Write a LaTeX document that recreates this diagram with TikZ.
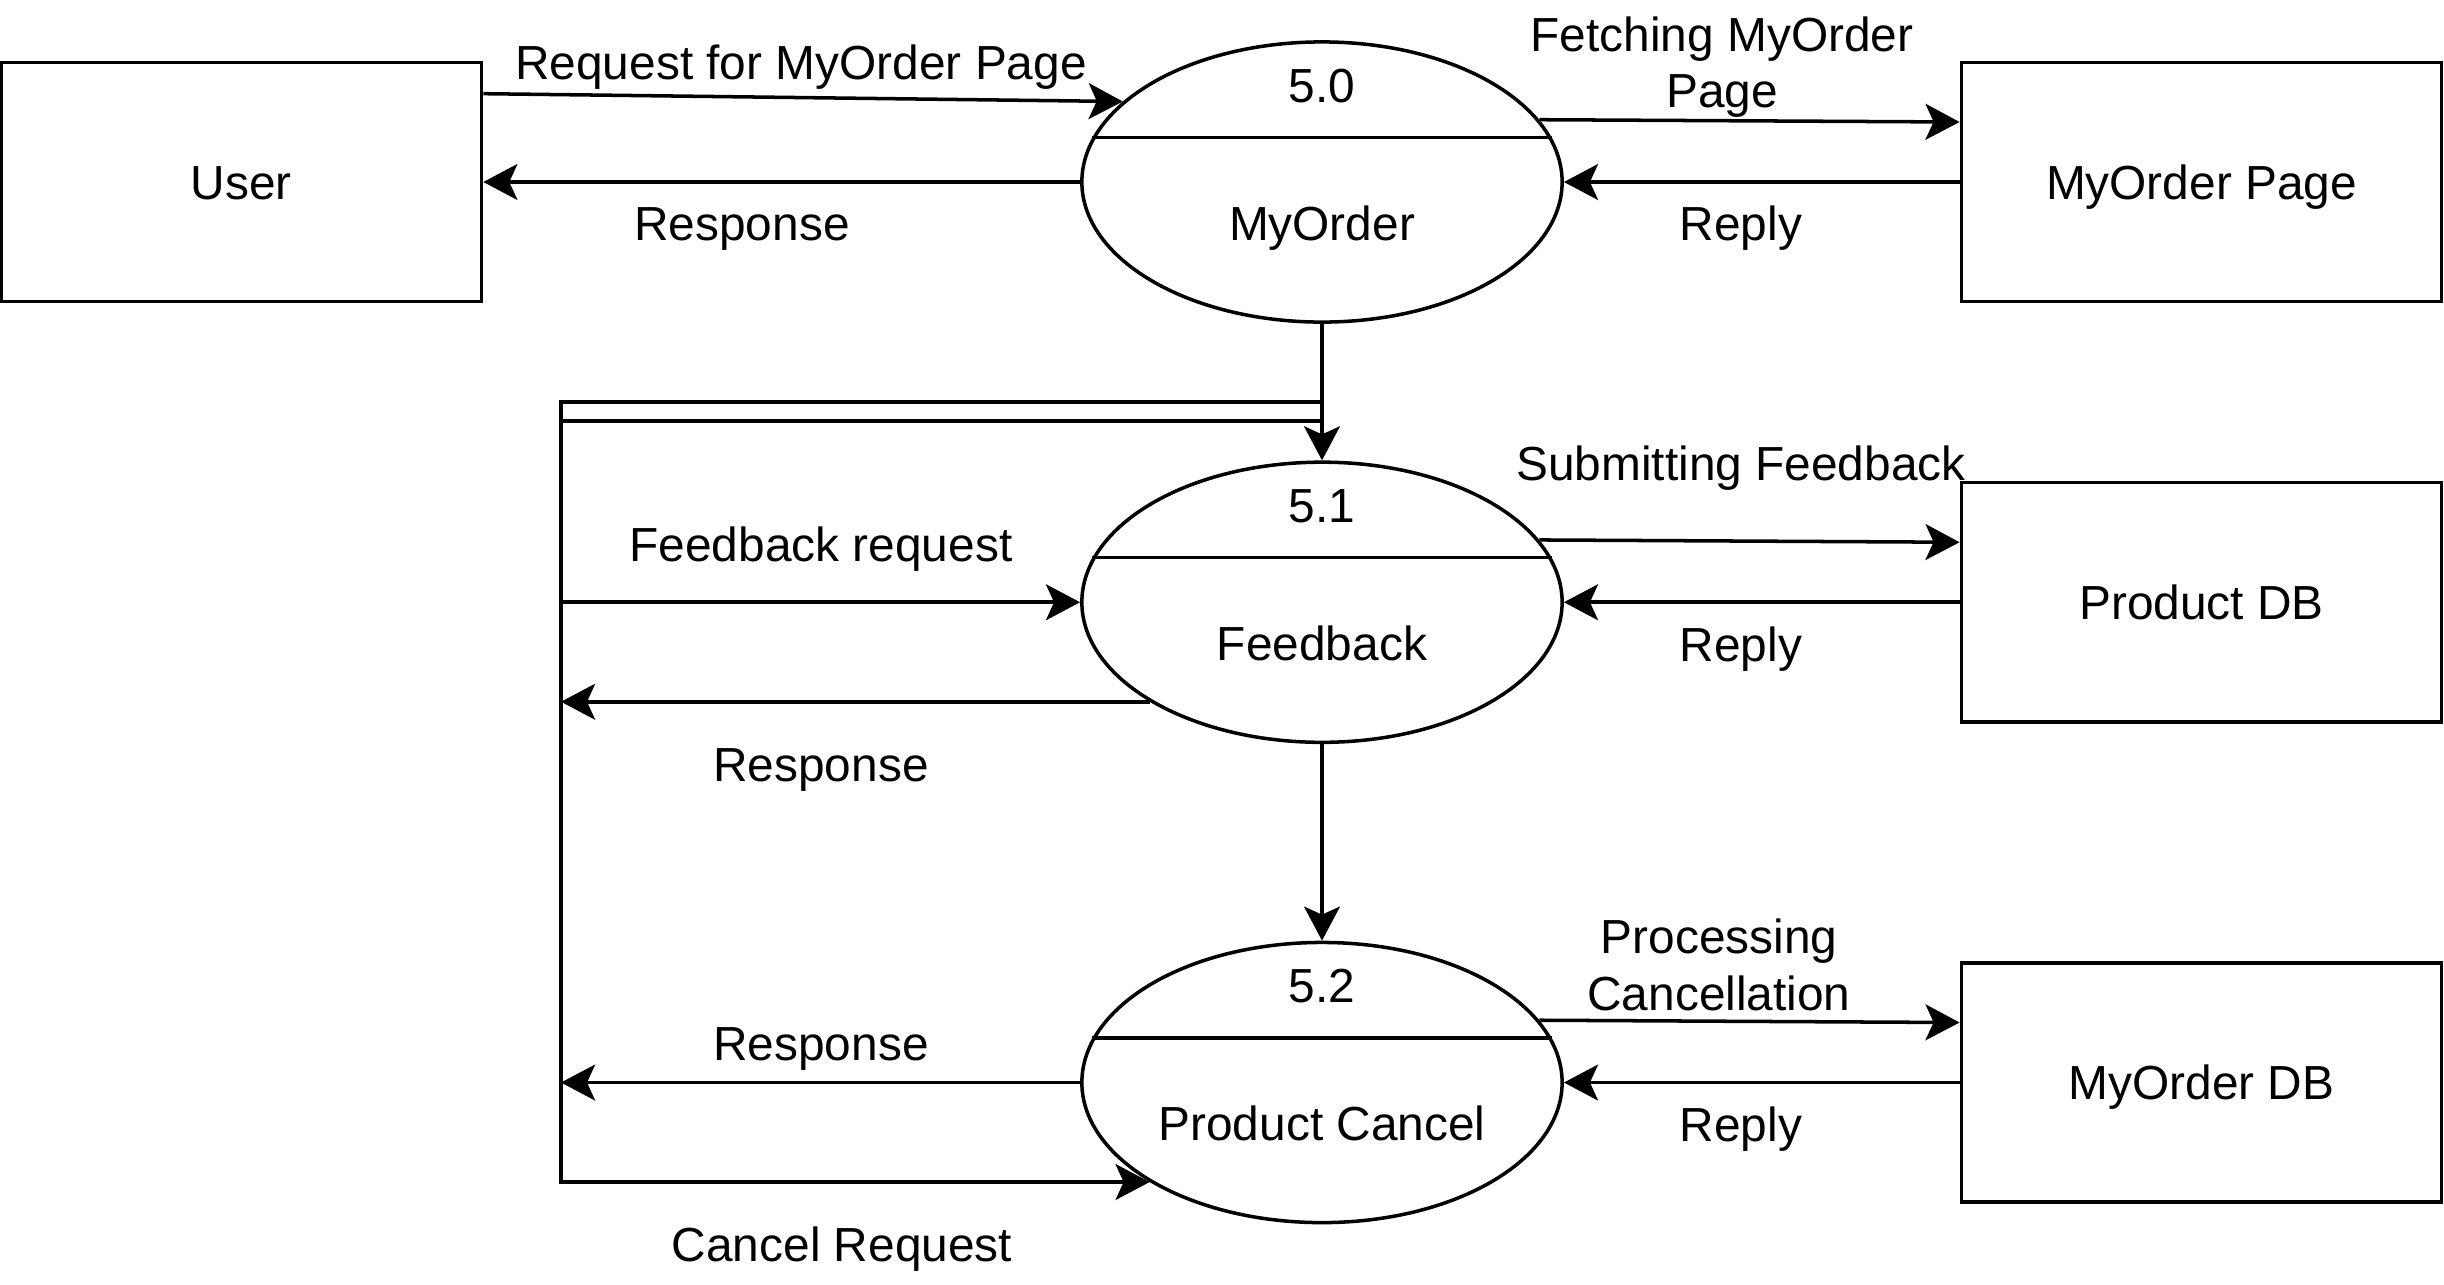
\documentclass[tikz,border=0pt]{standalone}
\usepackage{fontspec}
\setmainfont{Liberation Sans}
\usetikzlibrary{positioning}
\usetikzlibrary{calc}
\usetikzlibrary{shapes.geometric}
\usetikzlibrary{arrows.meta}
\begin{document}
\begin{tikzpicture}[x=0.01cm, y=-0.01cm, node distance=4.2cm,
    every node/.style={font=\fontsize{13.6pt}{16pt}\selectfont, text height=9.8pt, text depth=0pt},
    entity/.style={draw, line width=1pt, minimum width=4.8cm, minimum height=2.39cm, inner sep=0pt},
    process/.style={draw, ellipse, line width=1pt, minimum width=4.8cm, minimum height=2.8cm, inner sep=0pt},
    divider/.style={line width=1pt},
    flow_text/.style={align=center, inner sep=0pt},
    two_lines/.style={flow_text, text height=, text depth=},
    arrow_flow/.style={-{Stealth[length=9.7pt, width=10.2pt, inset=2.3pt]}, line width=1pt},
    plain_flow/.style={line width=1pt},
]
\useasboundingbox (0,0) rectangle (2444,1284);

\node[process] (myorder) at (1322,182) {};
\node[process, below of=myorder] (feedback) {};
\node[process, below of=feedback, yshift=-0.6cm] (cancel) {};

\node[entity, left of=myorder, xshift=-6.6cm] (user) {User};
\node[entity, right of=myorder, xshift=4.59cm] (page) {MyOrder Page};
\node[entity, below of=page] (productdb) {Product DB};
\node[entity, below of=productdb, yshift=-0.6cm] (orderdb) {MyOrder DB};

% process bubbles: number above the line, name below
\draw[divider] (myorder.169) -- (myorder.11);
\draw[divider] (feedback.169) -- (feedback.11);
\draw[divider] (cancel.169) -- (cancel.11);
\node[flow_text] (myorder_num) at ($(myorder)+(0,-97)$) {5.0};
\node[flow_text] (myorder_name) at ($(myorder)+(0,41)$) {MyOrder};
\node[flow_text] (feedback_num) at ($(feedback)+(0,-97)$) {5.1};
\node[flow_text] (feedback_name) at ($(feedback)+(0,41)$) {Feedback};
\node[flow_text] (cancel_num) at ($(cancel)+(0,-97)$) {5.2};
\node[flow_text] (cancel_name) at ($(cancel)+(0,41)$) {Product Cancel};

\coordinate (loop_top) at (561,402);
\coordinate (loop_mid) at (561,421);

\draw[arrow_flow] ($(user.north east)+(0,33)$) -- (myorder.158);
\draw[arrow_flow] (myorder.west) -- (user.east);
\draw[arrow_flow] (myorder.16) -- ($(page.west)+(0,-60)$);
\draw[arrow_flow] (page.west) -- (myorder.east);

\draw[arrow_flow] (myorder.south) -- (feedback.north);
\draw[arrow_flow] (feedback.16) -- ($(productdb.west)+(0,-60)$);
\draw[arrow_flow] (productdb.west) -- (feedback.east);

\draw[arrow_flow] (feedback.south) -- (cancel.north);
\draw[arrow_flow] (cancel.16) -- ($(orderdb.west)+(0,-60)$);
\draw[arrow_flow] (orderdb.west) -- (cancel.east);

% loop on the left
\draw[arrow_flow] (myorder.south |- loop_top) -- (loop_top) -- (loop_top |- cancel.210) -- (cancel.210);
\draw[plain_flow] (loop_mid) -- (loop_mid -| myorder.south);
\draw[arrow_flow] (loop_top |- feedback.west) -- (feedback.west);
\draw[arrow_flow] (feedback.210) -- (loop_top |- feedback.210);
\draw[arrow_flow] (cancel.west) -- (loop_top |- cancel.west);

% flow labels
\node[flow_text] (lbl_request) at (801,62) {Request for MyOrder Page};
\node[flow_text] (lbl_response_top) at (742,223) {Response};
\node[two_lines] (lbl_fetch) at (1722,67) {Fetching MyOrder\\Page};
\node[flow_text] (lbl_reply_top) at (1741,223) {Reply};
\node[flow_text] (lbl_submit) at (1741,463) {Submitting Feedback};
\node[flow_text] (lbl_reply_mid) at (1741,644) {Reply};
\node[two_lines] (lbl_processing) at (1719,965) {Processing\\Cancellation};
\node[flow_text] (lbl_reply_bot) at (1741,1124) {Reply};
\node[flow_text] (lbl_fb_request) at (821,544) {Feedback request};
\node[flow_text] (lbl_response_mid) at (821,764) {Response};
\node[flow_text] (lbl_response_bot) at (821,1043) {Response};
\node[flow_text] (lbl_cancel_request) at (842,1244) {Cancel Request};

\end{tikzpicture}
\end{document}
